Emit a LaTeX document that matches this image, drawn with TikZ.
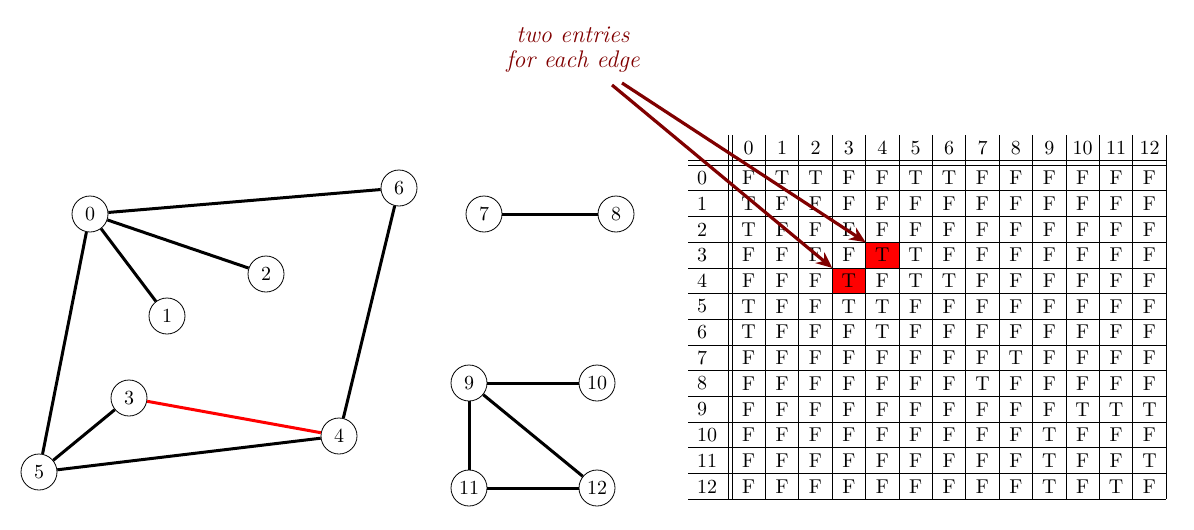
\documentclass[tikz,border=0pt]{standalone}
\usepackage{amsmath}
\usepackage{amssymb}
\usepackage{tikz}
\usetikzlibrary{matrix,arrows.meta}

\tikzset{
  vertex/.style={circle,draw,thin,minimum size=18pt,inner sep=0pt},
  link/.style={line width=1.5pt},
  pointer/.style={line width=1.6pt,red!50!black,-{Stealth[length=8pt,width=7pt]}},
  note/.style={align=center,text=red!50!black,font=\fontsize{12}{12.5}\selectfont\itshape}
}

\begin{document}
\begin{tikzpicture}[x=0.5pt,y=-0.5pt]
\useasboundingbox (0,0) rectangle (1194,530);
\node[vertex] (v0) at (90,214) {$0$} ;
\node[vertex] (v1) at (167,316) {$1$} ;
\node[vertex] (v2) at (266,274) {$2$} ;
\node[vertex] (v3) at (129,398) {$3$} ;
\node[vertex] (v4) at (339,436) {$4$} ;
\node[vertex] (v5) at (39,472) {$5$} ;
\node[vertex] (v6) at (399,188) {$6$} ;
\node[vertex] (v7) at (484,214) {$7$} ;
\node[vertex] (v8) at (616,214) {$8$} ;
\node[vertex] (v9) at (469,383) {$9$} ;
\node[vertex] (v10) at (597,383) {$10$} ;
\node[vertex] (v11) at (469,488) {$11$} ;
\node[vertex] (v12) at (597,488) {$12$} ;
\draw[link] (v0) to (v6) ;
\draw[link] (v0) to (v2) ;
\draw[link] (v0) to (v1) ;
\draw[link] (v0) to (v5) ;
\draw[link] (v6) to (v4) ;
\draw[link,red] (v3) to (v4) ;
\draw[link] (v3) to (v5) ;
\draw[link] (v5) to (v4) ;
\draw[link] (v7) to (v8) ;
\draw[link] (v9) to (v10) ;
\draw[link] (v9) to (v11) ;
\draw[link] (v9) to (v12) ;
\draw[link] (v11) to (v12) ;
\matrix (adj) [matrix of nodes,nodes in empty cells,matrix anchor=north west,inner sep=0pt,outer sep=0pt,
  column sep=0pt,row sep=0pt,
  nodes={inner sep=0pt,outer sep=0pt,minimum width=16.7pt,minimum height=12.85pt,anchor=center},
  column 1/.style={nodes={minimum width=20pt,text width=11pt,inner xsep=4.5pt,align=left}}]
  at (688,135) {
   &[2pt] 0 & 1 & 2 & 3 & 4 & 5 & 6 & 7 & 8 & 9 & 10 & 11 & 12 \\[2.2pt]
  0 & F & T & T & F & F & T & T & F & F & F & F & F & F \\
  1 & T & F & F & F & F & F & F & F & F & F & F & F & F \\
  2 & T & F & F & F & F & F & F & F & F & F & F & F & F \\
  3 & F & F & F & F & |[fill=red]| T & T & F & F & F & F & F & F & F \\
  4 & F & F & F & |[fill=red]| T & F & T & T & F & F & F & F & F & F \\
  5 & T & F & F & T & T & F & F & F & F & F & F & F & F \\
  6 & T & F & F & F & T & F & F & F & F & F & F & F & F \\
  7 & F & F & F & F & F & F & F & F & T & F & F & F & F \\
  8 & F & F & F & F & F & F & F & T & F & F & F & F & F \\
  9 & F & F & F & F & F & F & F & F & F & F & T & T & T \\
  10 & F & F & F & F & F & F & F & F & F & T & F & F & F \\
  11 & F & F & F & F & F & F & F & F & F & T & F & F & T \\
  12 & F & F & F & F & F & F & F & F & F & T & F & T & F \\
};
\draw (adj-1-1.south west) -- (adj-1-14.south east) ;
\draw (adj-2-1.north west) -- (adj-2-14.north east) ;
\foreach \r in {2,...,14}
  \draw (adj-\r-1.south west) -- (adj-\r-14.south east) ;
\draw (adj-1-1.north east) -- (adj-14-1.south east) ;
\draw (adj-1-2.north west) -- (adj-14-2.south west) ;
\foreach \c in {2,...,14}
  \draw (adj-1-\c.north east) -- (adj-14-\c.south east) ;
\node[note] (note) at (573,50) {two entries\\for each edge} ;
\coordinate (n1) at (612,85) ;
\coordinate (n2) at (622,83) ;
\draw[pointer] (n1) -- (adj-6-5.north west) ;
\draw[pointer] (n2) -- (adj-5-6.north west) ;
\end{tikzpicture}
\end{document}
